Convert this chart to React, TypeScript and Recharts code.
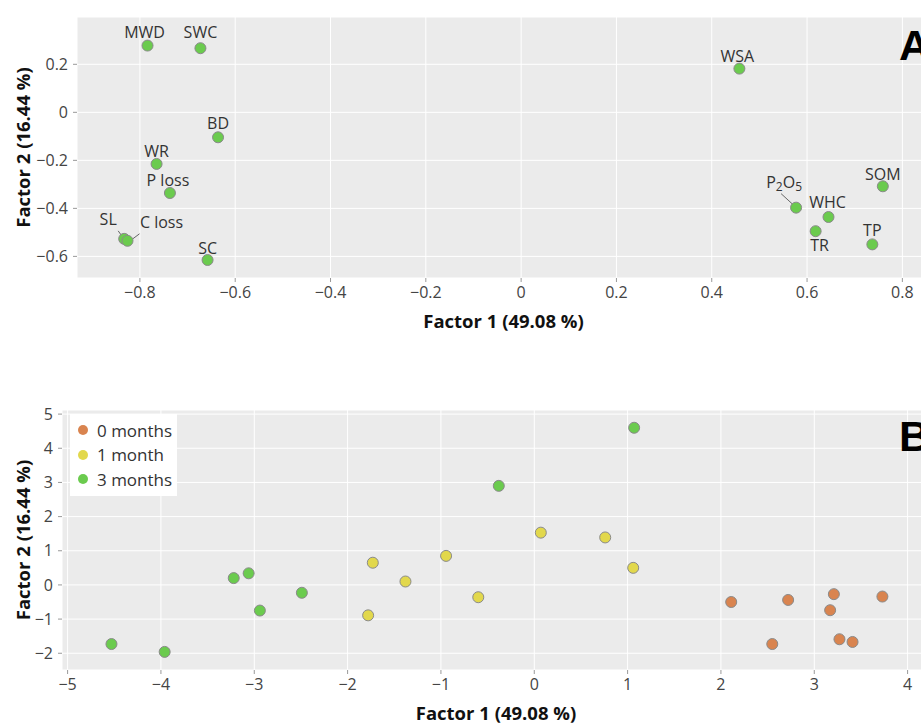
import React from "react";
import {
  CartesianGrid,
  Label,
  Legend,
  Scatter,
  ScatterChart,
  XAxis,
  YAxis,
} from "recharts";

// Panel A: factor loadings of the soil variables
const variables = ["MWD", "SWC", "BD", "WR", "P loss", "SL", "C loss", "SC", "WSA", "P2O5", "WHC", "SOM", "TR", "TP"];
const factor1Loadings = [-0.784, -0.673, -0.636, -0.765, -0.737, -0.833, -0.826, -0.658, 0.458, 0.577, 0.645, 0.759, 0.618, 0.737];
const factor2Loadings = [0.278, 0.267, -0.104, -0.215, -0.336, -0.527, -0.535, -0.615, 0.182, -0.397, -0.436, -0.308, -0.495, -0.55];

// Panel B: sample scores by incubation time
const months0Factor1 = [2.11, 2.72, 3.21, 3.17, 3.73, 2.55, 3.27, 3.41];
const months0Factor2 = [-0.5, -0.44, -0.27, -0.74, -0.34, -1.73, -1.59, -1.67];
const months1Factor1 = [-1.73, -1.38, -1.78, -0.945, -0.6, 0.07, 0.76, 1.06];
const months1Factor2 = [0.65, 0.1, -0.89, 0.85, -0.36, 1.53, 1.39, 0.5];
const months3Factor1 = [-4.53, -3.96, -3.22, -3.06, -2.94, -2.49, -0.38, 1.07];
const months3Factor2 = [-1.73, -1.96, 0.2, 0.34, -0.75, -0.23, 2.9, 4.6];

const ticksA_x = [-0.8, -0.6, -0.4, -0.2, 0, 0.2, 0.4, 0.6, 0.8];
const ticksA_y = [-0.6, -0.4, -0.2, 0, 0.2];
const ticksB_x = [-5, -4, -3, -2, -1, 0, 1, 2, 3, 4];
const ticksB_y = [-2, -1, 0, 1, 2, 3, 4, 5];

const FONT = "'Open Sans', 'Noto Sans', sans-serif";
const GREEN = "#6bcb4e";
const YELLOW = "#e2d84c";
const ORANGE = "#d9844f";
const MARKER_STROKE = "#8a8a8a";

// where each loading label sits relative to its point (px)
const labelPlacement: Record<string, { dx: number; dy: number; leader?: [number, number, number, number] }> = {
  MWD: { dx: -3, dy: -14 },
  SWC: { dx: 0, dy: -16 },
  BD: { dx: 0, dy: -14 },
  WR: { dx: 0, dy: -13 },
  "P loss": { dx: -2, dy: -13 },
  SL: { dx: -16, dy: -20, leader: [-6, -8, -1, -1] },
  "C loss": { dx: 34, dy: -19, leader: [12, -7, 4, -1] },
  SC: { dx: 0, dy: -12 },
  WSA: { dx: -2, dy: -13 },
  P2O5: { dx: -12, dy: -26, leader: [-15, -14, -3, -3] },
  WHC: { dx: -1, dy: -15 },
  SOM: { dx: 0, dy: -12 },
  TR: { dx: 4, dy: 14 },
  TP: { dx: 0, dy: -14 },
};

const loadings = variables.map((name, i) => ({ name, f1: factor1Loadings[i], f2: factor2Loadings[i] }));
const toPoints = (xs: number[], ys: number[]) => xs.map((f1, i) => ({ f1, f2: ys[i] }));
const scores0 = toPoints(months0Factor1, months0Factor2);
const scores1 = toPoints(months1Factor1, months1Factor2);
const scores3 = toPoints(months3Factor1, months3Factor2);

const fmt = (v: number) => (v === 0 ? "0" : (v < 0 ? "\u2212" : "") + String(Math.abs(v)));

const dot = (fill: string) => (props: any) => (
  <circle cx={props.cx} cy={props.cy} r={5.5} fill={fill} stroke={MARKER_STROKE} strokeWidth={1} />
);

const LoadingShape = (props: any) => {
  const { cx, cy, payload } = props;
  const p = labelPlacement[payload.name] || { dx: 0, dy: -13 };
  const tx = cx + p.dx;
  const ty = cy + p.dy;
  return (
    <g>
      {p.leader && (
        <line
          x1={cx + p.leader[0]}
          y1={cy + p.leader[1]}
          x2={cx + p.leader[2]}
          y2={cy + p.leader[3]}
          stroke="#666"
          strokeWidth={1}
        />
      )}
      <circle cx={cx} cy={cy} r={5.5} fill={GREEN} stroke={MARKER_STROKE} strokeWidth={1} />
      <text
        x={tx}
        y={ty}
        textAnchor="middle"
        dominantBaseline="central"
        fontFamily={FONT}
        fontSize={16}
        fill="#333"
      >
        {payload.name === "P2O5" ? (
          <>
            <tspan>P</tspan>
            <tspan dy={4} fontSize={12}>2</tspan>
            <tspan dy={-4}>O</tspan>
            <tspan dy={4} fontSize={12}>5</tspan>
          </>
        ) : (
          payload.name
        )}
      </text>
    </g>
  );
};

const tickStyle = { fill: "#444", fontSize: 16, fontFamily: FONT };

const xTitle = (props: any) => {
  const vb = props.viewBox;
  return (
    <text
      x={vb.x + vb.width / 2}
      y={vb.y + 42}
      textAnchor="middle"
      dominantBaseline="central"
      fontFamily={FONT}
      fontWeight={700}
      fontSize={18.5}
      fill="#111"
    >
      Factor 1 (49.08 %)
    </text>
  );
};

const yTitle = (props: any) => {
  const vb = props.viewBox;
  const cx = 22;
  const cy = vb.y + vb.height / 2;
  return (
    <text
      x={cx}
      y={cy}
      transform={`rotate(-90, ${cx}, ${cy})`}
      textAnchor="middle"
      dominantBaseline="central"
      fontFamily={FONT}
      fontWeight={700}
      fontSize={18.5}
      fill="#111"
    >
      Factor 2 (16.44 %)
    </text>
  );
};

const legendItems = [
  { label: "0 months", color: ORANGE },
  { label: "1 month", color: YELLOW },
  { label: "3 months", color: GREEN },
];

const LegendBox = () => (
  <div style={{ background: "#fff", padding: "4px 5px 4px 8px", fontFamily: FONT, fontSize: 17, color: "#333" }}>
    {legendItems.map((it) => (
      <div key={it.label} style={{ display: "flex", alignItems: "center", height: 24.5 }}>
        <span
          style={{
            display: "inline-block",
            width: 10,
            height: 10,
            borderRadius: "50%",
            background: it.color,
            marginRight: 9,
          }}
        />
        {it.label}
      </div>
    ))}
  </div>
);

const letterFont = "'Liberation Sans', Arial, sans-serif";

export default function App() {
  return (
    <div
      style={{
        position: "absolute",
        left: 0,
        top: 0,
        width: 921,
        height: 724,
        overflow: "hidden",
        background: "#fff",
      }}
    >
      <div style={{ position: "absolute", left: 0, top: 0 }}>
        <ScatterChart width={930} height={335} margin={{ top: 17, right: 0, bottom: 0, left: 17 }}>
          <CartesianGrid fill="#ebebeb" stroke="#ffffff" strokeWidth={1} />
          <XAxis
            type="number"
            dataKey="f1"
            domain={[-0.932, 0.858]}
            ticks={ticksA_x}
            tickFormatter={fmt}
            tick={tickStyle}
            tickLine={{ stroke: "#999" }}
            tickSize={4}
            tickMargin={5}
            axisLine={false}
            height={57}
            allowDataOverflow
          >
            <Label content={xTitle} />
          </XAxis>
          <YAxis
            type="number"
            dataKey="f2"
            domain={[-0.69, 0.397]}
            ticks={ticksA_y}
            tickFormatter={fmt}
            tick={tickStyle}
            tickLine={{ stroke: "#999" }}
            tickSize={4}
            tickMargin={5}
            axisLine={false}
            width={60}
            allowDataOverflow
          >
            <Label content={yTitle} />
          </YAxis>
          <Scatter data={loadings} shape={LoadingShape} isAnimationActive={false} />
          <text x={899} y={60} fontFamily={letterFont} fontWeight={700} fontSize={43} fill="#000">
            A
          </text>
        </ScatterChart>
      </div>
      <div style={{ position: "absolute", left: 0, top: 390 }}>
        <ScatterChart width={930} height={334} margin={{ top: 20, right: 0, bottom: 0, left: 17 }}>
          <CartesianGrid fill="#ebebeb" stroke="#ffffff" strokeWidth={1} />
          <XAxis
            type="number"
            dataKey="f1"
            domain={[-5.06, 4.24]}
            ticks={ticksB_x}
            tickFormatter={fmt}
            tick={tickStyle}
            tickLine={{ stroke: "#999" }}
            tickSize={4}
            tickMargin={5}
            axisLine={false}
            height={54}
            allowDataOverflow
          >
            <Label content={xTitle} />
          </XAxis>
          <YAxis
            type="number"
            dataKey="f2"
            domain={[-2.49, 5.12]}
            ticks={ticksB_y}
            tickFormatter={fmt}
            tick={tickStyle}
            tickLine={{ stroke: "#999" }}
            tickSize={4}
            tickMargin={5}
            axisLine={false}
            width={45}
            allowDataOverflow
          >
            <Label content={yTitle} />
          </YAxis>
          <Legend
            layout="vertical"
            align="center"
            verticalAlign="middle"
            content={LegendBox}
            wrapperStyle={{ position: "absolute", left: 70, top: 24, width: "auto" }}
          />
          <Scatter name="0 months" data={scores0} shape={dot(ORANGE)} isAnimationActive={false} />
          <Scatter name="1 month" data={scores1} shape={dot(YELLOW)} isAnimationActive={false} />
          <Scatter name="3 months" data={scores3} shape={dot(GREEN)} isAnimationActive={false} />
          <text x={899} y={61} fontFamily={letterFont} fontWeight={700} fontSize={43} fill="#000">
            B
          </text>
        </ScatterChart>
      </div>
    </div>
  );
}
